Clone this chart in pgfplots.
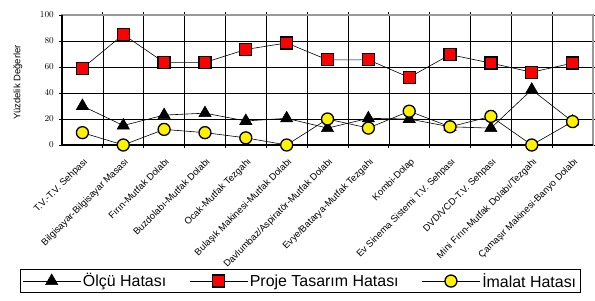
\documentclass[border=0pt]{standalone}
\usepackage{fontspec}
\setmainfont{Liberation Sans}
\usepackage{pgfplots}
\pgfplotsset{compat=1.18}
\begin{document}
\begin{tikzpicture}[x=1bp,y=1bp]
\path[use as bounding box] (0,0) rectangle (595,300);
\begin{axis}[
  at={(62bp,155bp)}, anchor=south west,
  scale only axis, width=531bp, height=130bp,
  xmin=-0.5, xmax=12.5, ymin=0, ymax=100,
  clip=false,
  axis line style={draw=gray!80, line width=1.4bp},
  xtick={0,...,12},
  xticklabels={{T.V.-T.V. Sehpası},{Bilgisayar-Bilgisayar Masası},{Fırın-Mutfak Dolabı},{Buzdolabı-Mutfak Dolabı},{Ocak-Mutfak Tezgahı},{Bulaşık Makinesi-Mutfak Dolabı},{Davlumbaz/Aspiratör-Mutfak Dolabı},{Evye/Batarya-Mutfak Tezgahı},{Kombi-Dolap},{Ev Sinema Sistemi T.V. Sehpası},{DVD/VCD-T.V. Sehpası},{Mini Fırın-Mutfak Dolabı/Tezgahı},{Çamaşır Makinesi-Banyo Dolabı}},
  major x tick style={draw=none},
  minor xtick={0.5,1.5,...,11.5},
  xminorgrids=true,
  ytick={0,20,...,100},
  ymajorgrids=true,
  grid style={black, line width=0.5bp},
  minor grid style={black, line width=0.5bp},
  tick align=outside,
  major tick length=3bp, minor tick length=3bp,
  tick style={black, line width=0.8bp},
  xticklabel style={rotate=45, anchor=north east, font=\fontsize{9.5}{10}\selectfont, inner sep=1bp, xshift=-5bp, yshift=-6bp},
  yticklabel style={font=\fontsize{9}{10}\selectfont, inner sep=0pt, xshift=-5bp},
  ylabel={Yüzdelik Değerler},
  ylabel style={at={(axis description cs:-0.083,0.48)}, anchor=center, font=\fontsize{9.5}{10}\selectfont},
  legend columns=3,
  legend style={at={(axis description cs:-0.0791,-0.9538)}, anchor=north west, draw=black, line width=0.8bp,
    font=\fontsize{16}{18}\selectfont, inner sep=2bp,
    /tikz/every even column/.append style={column sep=21bp}},
  legend image code/.code={\draw[mark repeat=2,mark phase=2,#1] plot coordinates {(0bp,0bp) (29bp,0bp) (58bp,0bp)};},
]
\addplot[black, line width=0.6bp, mark=triangle*, mark size=7bp, mark options={fill=black, line width=0.6bp}]
  coordinates {(0,30)(1,15)(2,23)(3,24.5)(4,18.5)(5,20.5)(6,13)(7,20.5)(8,20)(9,14)(10,13)(11,42.5)(12,18)};
\addlegendentry{Ölçü Hatası}
\addplot[black, line width=0.6bp, mark=square*, mark size=6bp, mark options={fill=red, draw=black, line width=1.3bp}]
  coordinates {(0,59)(1,85)(2,63.5)(3,63.5)(4,73.5)(5,78.5)(6,65.5)(7,65.5)(8,52)(9,69.5)(10,63)(11,56)(12,63)};
\addlegendentry{Proje Tasarım Hatası}
\addplot[black, line width=0.6bp, mark=*, mark size=6bp, mark options={fill=yellow, draw=black, line width=1.3bp}]
  coordinates {(0,9.5)(1,0)(2,12)(3,9.5)(4,5.5)(5,0)(6,20)(7,13)(8,26)(9,14)(10,22)(11,0)(12,18)};
\addlegendentry{İmalat Hatası}
\draw[black, line width=2bp] (rel axis cs:0,1) -- (rel axis cs:0,0) -- (rel axis cs:1,0);
\end{axis}
\end{tikzpicture}
\end{document}
